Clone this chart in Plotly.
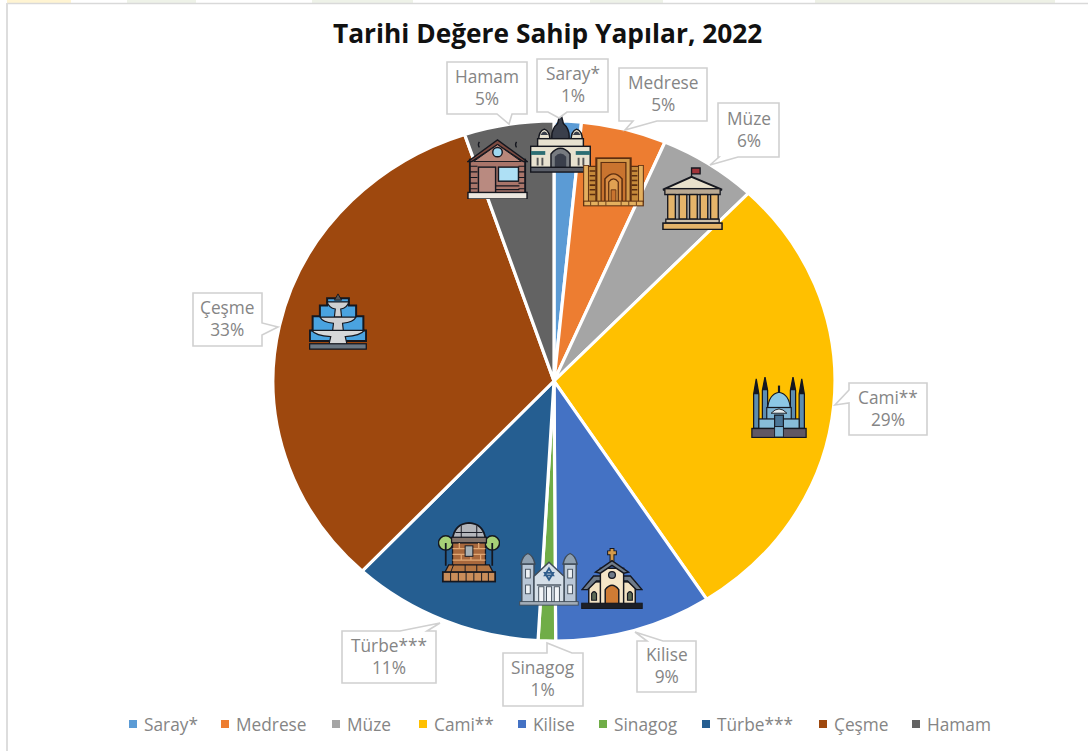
import base64
import plotly.graph_objects as go

W, H = 1088, 751

# ---- data ----
categories = ["Saray*", "Medrese", "Müze", "Cami**", "Kilise", "Sinagog", "Türbe***", "Çeşme", "Hamam"]
shares = [1.56, 4.9, 5.7, 28.7, 9.05, 1.0, 11.05, 32.9, 5.15]
share_labels = ["1%", "5%", "6%", "29%", "9%", "1%", "11%", "33%", "5%"]
colors = ["#5B9BD5", "#ED7D31", "#A5A5A5", "#FFC000", "#4472C4", "#70AD47", "#255E91", "#9E480E", "#636363"]
title_text = "Tarihi Değere Sahip Yapılar, 2022"

# ---- layout constants (pixels in the 1088x751 page) ----
CX, CY, RX, RY = 554, 381, 281, 260
TEXT_GREY = "#858585"
BOX_GREY = "#D0D0D0"
TITLE_FONT = "'Open Sans', Lato, sans-serif"
FONT = "'Open Sans', Lato, sans-serif"
LABEL_SIZE = 17.3

# box x0, y0, x1, y1 and tail polygon (base a, tip, base b) for each callout
callouts = {
    "Saray*":   ((537, 59, 608, 112), ((548, 112), (559, 118), (567, 112))),
    "Medrese":  ((619, 68, 707, 121), ((633, 121), (625, 130), (657, 121))),
    "Müze":     ((718, 103, 779, 157), ((719, 157), (710, 165), (738, 157))),
    "Cami**":   ((849, 383, 927, 435), ((849, 390), (835, 405), (849, 403))),
    "Kilise":   ((637, 641, 696, 692), ((647, 641), (635, 632), (663, 641))),
    "Sinagog":  ((503, 653, 583, 706), ((547, 653), (547, 643), (572, 653))),
    "Türbe***": ((342, 631, 436, 683), ((400, 631), (440, 623), (427, 631))),
    "Çeşme":    ((193, 293, 262, 346), ((262, 323), (278, 327), (262, 335))),
    "Hamam":    ((447, 62, 527, 114), ((497, 114), (509, 124), (512, 114))),
}
legend_marker_x = [133, 225, 336, 423, 522, 603, 706, 823, 916]
top_strips = [(7, 71, "#FFF4D2"), (127, 196, "#EEF2E8"), (312, 413, "#EEF2E8"), (590, 663, "#EEF2E8"), (815, 1055, "#EEF1E6")]

# icon boxes x0, y0, x1, y1
icon_boxes = {
    "Saray*": (530, 112, 591, 173),
    "Medrese": (583, 157, 644, 207),
    "Müze": (662, 167, 723, 230),
    "Cami**": (751, 377, 807, 438),
    "Kilise": (581, 547, 643, 609),
    "Sinagog": (519, 550, 579, 606),
    "Türbe***": (438, 522, 500, 583),
    "Çeşme": (309, 293, 367, 350),
    "Hamam": (467, 139, 528, 199),
}

K = "#15171f"
icons = {
"Hamam": f'''<path d="M13 9 q-2 -3 0 -6 M52 9 q-2 -3 0 -6" stroke="{K}" stroke-width="1.5" fill="none"/>
<rect x="3" y="22" width="58" height="36" fill="#a9756a" stroke="{K}" stroke-width="2"/>
<path d="M1 24 L32 1 L63 24 L59 24 L32 6 L5 24Z" fill="#7c4b41" stroke="{K}" stroke-width="1.5"/>
<path d="M7 24 L32 6 L57 24Z" fill="#b9877a" stroke="{K}" stroke-width="1"/>
<circle cx="32" cy="14" r="5" fill="#9fd8f0" stroke="{K}" stroke-width="1.5"/>
<rect x="12" y="30" width="18" height="28" fill="#b98a80" stroke="{K}" stroke-width="1.5"/>
<rect x="33" y="30" width="21" height="15" fill="#aee0f5" stroke="{K}" stroke-width="1.5"/>
<path d="M30 50H55M30 54H55M3 29H11M3 35H11M3 41H11M3 47H11M3 53H11M54 29H61M54 35H61M54 41H61M54 47H61M54 53H61" stroke="{K}" stroke-width="1.2"/>
<rect x="1" y="57" width="62" height="7" fill="#ece7df" stroke="{K}" stroke-width="1.5"/>''',
"Saray": f'''<path d="M32 0 L35 12 Q42 18 41 28 H23 Q22 18 29 12 Z" fill="#3a3f4b" stroke="{K}" stroke-width="1.5"/>
<path d="M9 30 Q9 20 15 18 Q21 20 21 30Z M43 30 Q43 20 49 18 Q55 20 55 30Z" fill="#e8e2d0" stroke="{K}" stroke-width="1.5"/>
<path d="M11 24 Q15 17 19 24Z M45 24 Q49 17 53 24Z" fill="#3a3f4b"/>
<rect x="8" y="28" width="48" height="32" fill="#e8e2d0" stroke="{K}" stroke-width="1.5"/>
<rect x="0.7" y="36" width="62.5" height="24" fill="#e8e2d0" stroke="{K}" stroke-width="1.5"/>
<rect x="1" y="41" width="15" height="4" fill="#2c6e73"/><rect x="48" y="41" width="15" height="4" fill="#2c6e73"/>
<path d="M8 48 V56 M13 48 V56 M51 48 V56 M56 48 V56" stroke="#555" stroke-width="2"/>
<path d="M22 60 V44 Q32 32 42 44 V60Z" fill="#777b80" stroke="{K}" stroke-width="1.5"/>
<path d="M26 60 V47 Q32 40 38 47 V60Z" fill="#3a3f4b"/>
<rect x="0.7" y="58" width="62.5" height="5" fill="#5a5e68" stroke="{K}" stroke-width="1.5"/>''',
"Medrese": f'''<rect x="2" y="12" width="60" height="46" fill="#c5893a" stroke="#5c2e10" stroke-width="1.6"/>
<path d="M7 18H13M7 24H13M7 30H13M7 36H13M7 42H13M7 48H13M51 18H57M51 24H57M51 30H57M51 36H57M51 42H57M51 48H57" stroke="#5c2e10" stroke-width="2"/>
<rect x="14" y="1.5" width="36" height="56" fill="#d49a4a" stroke="#5c2e10" stroke-width="2.2"/>
<rect x="19" y="7" width="26" height="50" fill="#c9742f" stroke="#5c2e10" stroke-width="1.3"/>
<path d="M23 58 V28 Q32 15 41 28 V58Z" fill="#d98e45" stroke="#5c2e10" stroke-width="1.6"/>
<path d="M27 58 V32 Q32 24 37 32 V58Z" fill="#e0a152" stroke="#5c2e10" stroke-width="1.3"/>
<path d="M29.5 58 V42 H34.5 V58Z" fill="#c9742f" stroke="#5c2e10"/>
<rect x="0.7" y="11" width="5" height="47" fill="#e4b05f" stroke="#5c2e10"/><rect x="58.3" y="11" width="5" height="47" fill="#e4b05f" stroke="#5c2e10"/>
<rect x="0.7" y="56.5" width="62.5" height="6" fill="#e4b05f" stroke="#5c2e10" stroke-width="1.3"/>
<path d="M8 57V62M16 57V62M24 57V62M40 57V62M48 57V62M56 57V62" stroke="#5c2e10"/>''',
"Müze": f'''<path d="M31 13 V1 H40 V7 H31" fill="#a2343a" stroke="{K}" stroke-width="1.4"/>
<path d="M1 23 L31 10 L63 23 Z" fill="#e9e1cc" stroke="{K}" stroke-width="2"/>
<rect x="3" y="22" width="58" height="6" fill="#b9a993" stroke="{K}" stroke-width="1.4"/>
<g fill="#e5b46a" stroke="{K}" stroke-width="1.4"><rect x="6" y="28" width="8" height="25"/><rect x="18" y="28" width="8" height="25"/><rect x="29" y="28" width="8" height="25"/><rect x="40" y="28" width="8" height="25"/><rect x="51" y="28" width="8" height="25"/></g>
<rect x="4" y="53" width="56" height="4" fill="#cdbfa9" stroke="{K}" stroke-width="1.3"/>
<rect x="1" y="57" width="62" height="6.5" fill="#e5b46a" stroke="{K}" stroke-width="1.6"/>''',
"Cami": f'''<g fill="#5d8db0" stroke="{K}" stroke-width="1.4"><path d="M6 2 L9 18 V54 H3 V18Z"/><path d="M16 0 L19 14 V54 H13 V14Z"/><path d="M48 0 L51 14 V54 H45 V14Z"/><path d="M58 2 L61 18 V54 H55 V18Z"/></g>
<g fill="{K}"><path d="M6 2 L9 18 H3Z"/><path d="M16 0 L19 14 H13Z"/><path d="M48 0 L51 14 H45Z"/><path d="M58 2 L61 18 H55Z"/></g>
<path d="M19 34 Q20 18 32 16 Q44 18 45 34Z" fill="#8cc7e5" stroke="{K}" stroke-width="1.3"/>
<path d="M32 16 V9" stroke="{K}" stroke-width="2.5"/>
<rect x="18" y="32" width="28" height="20" fill="#7fb4d2" stroke="{K}" stroke-width="1.3"/>
<path d="M23 38 Q32 29 41 38Z" fill="#e5ecef" stroke="{K}"/>
<rect x="9" y="44" width="46" height="10" fill="#87bcd8" stroke="{K}" stroke-width="1.3"/>
<rect x="27" y="40" width="10" height="22" fill="#4a7596" stroke="{K}" stroke-width="1.3"/>
<rect x="1" y="54" width="62" height="9.5" fill="#605864" stroke="{K}" stroke-width="1.4"/>
<rect x="27" y="52" width="10" height="11" fill="#7fb4d2" stroke="{K}"/>''',
"Çeşme": f'''<path d="M20 6 H44 V14 H52 V26 H60 V42 H63 V54 H1 V42 H4 V26 H12 V14 H20Z" fill="#4aa3e0" stroke="{K}" stroke-width="2.2"/>
<path d="M32 1 L36 8 H28Z" fill="#555" stroke="{K}"/>
<path d="M20 10 H44 Q42 17 35 18 L36 27 H28 L29 18 Q22 17 20 10Z" fill="#cfd0d2" stroke="{K}" stroke-width="1.3"/>
<path d="M12 27 H52 Q49 33 37 34 L38 43 H26 L27 34 Q15 33 12 27Z" fill="#cfd0d2" stroke="{K}" stroke-width="1.3"/>
<path d="M3 42 H61 Q57 48 40 49 L42 58 H22 L24 49 Q7 48 3 42Z" fill="#d6d7d9" stroke="{K}" stroke-width="1.3"/>
<rect x="0.7" y="57" width="62.5" height="6" fill="#6b7783" stroke="{K}" stroke-width="1.4"/>''',
"Türbe": f'''<circle cx="8" cy="22" r="7.5" fill="#a7d177" stroke="{K}" stroke-width="1.5"/><circle cx="56" cy="22" r="7.5" fill="#a7d177" stroke="{K}" stroke-width="1.5"/>
<path d="M8 22V46M56 22V46" stroke="{K}" stroke-width="1.8"/>
<path d="M15 18 Q17 2 32 1 Q47 2 49 18Z" fill="#b4b6bb" stroke="{K}" stroke-width="1.8"/>
<path d="M24 4V18M40 4V18M18 11H46" stroke="{K}"/>
<rect x="14" y="16" width="36" height="6" fill="#83736a" stroke="{K}" stroke-width="1.3"/>
<rect x="15" y="22" width="34" height="24" fill="#a8683c" stroke="{K}" stroke-width="1.3"/>
<path d="M15 28H49M15 34H49M15 40H49M22 22V28M42 22V28M24 34V40M34 34V40M44 34V40" stroke="#e2a873" stroke-width="1.3"/>
<rect x="28" y="25" width="8" height="11" fill="#a8b1b5" stroke="{K}"/>
<path d="M11 45 H53 L57 53 H7Z" fill="#b67743" stroke="{K}" stroke-width="1.3"/>
<rect x="5" y="52.5" width="54" height="10" fill="#c98d5a" stroke="{K}" stroke-width="1.8"/>
<path d="M13 53V62M21 53V62M29 53V62M37 53V62M45 53V62M52 53V62M16 45L13 53M28 45V53M40 45V53" stroke="{K}"/>''',
"Sinagog": f'''<g fill="#b9c7d6" stroke="#3f4b58" stroke-width="1.5"><rect x="3" y="16" width="13" height="44"/><rect x="48" y="16" width="13" height="44"/>
<path d="M2 16 Q4 6 9.5 4 Q15 6 17 16Z" fill="#8fa0b0"/><path d="M47 16 Q49 6 54.5 4 Q60 6 62 16Z" fill="#8fa0b0"/>
<path d="M16 30 L32 14 L48 30 V60 H16Z" fill="#d5dfe8"/></g>
<path d="M32 21 L36.5 29 L27.5 29Z M32 34 L36.5 26 L27.5 26Z" fill="none" stroke="#2f5d8c" stroke-width="2"/>
<g fill="#f2f5f8" stroke="#3f4b58"><rect x="21" y="42" width="5.5" height="18"/><rect x="29.3" y="42" width="5.5" height="18"/><rect x="37.6" y="42" width="5.5" height="18"/></g>
<path d="M19 40 H45" stroke="#3f4b58" stroke-width="1.5"/>
<rect x="7" y="22" width="5" height="10" fill="#eef2f5" stroke="#3f4b58"/><rect x="52" y="22" width="5" height="10" fill="#eef2f5" stroke="#3f4b58"/>
<rect x="7" y="40" width="5" height="10" fill="#eef2f5" stroke="#3f4b58"/><rect x="52" y="40" width="5" height="10" fill="#eef2f5" stroke="#3f4b58"/>
<rect x="0.7" y="59" width="62.5" height="4" fill="#a2adb8" stroke="#3f4b58"/>''',
"Kilise": f'''<path d="M32 1 V15 M27 6 H37" stroke="{K}" stroke-width="5"/><path d="M32 2 V15 M28 6 H36" stroke="#d49a4a" stroke-width="3"/>
<rect x="8" y="36" width="48" height="23" fill="#f3e2c2" stroke="{K}" stroke-width="1.5"/>
<path d="M1 44 L13 30 H51 L63 44 L57 44 L48 35 H16 L7 44Z" fill="#6f7b89" stroke="{K}" stroke-width="1.5"/>
<rect x="20" y="22" width="24" height="37" fill="#f6e6c8" stroke="{K}" stroke-width="1.5"/>
<path d="M15 26 L32 14 L49 26 L44 27 L32 19 L20 27Z" fill="#6f7b89" stroke="{K}" stroke-width="1.5"/>
<circle cx="32" cy="29" r="3.5" fill="#6f7b89" stroke="{K}" stroke-width="1.3"/>
<path d="M25 59 V44 Q32 35 39 44 V59Z" fill="#cf7b34" stroke="{K}" stroke-width="1.5"/>
<path d="M11 55 V48 Q13.5 44 16 48 V55Z M48 55 V48 Q50.5 44 53 48 V55Z" fill="#5d6a55" stroke="{K}" stroke-width="1.2"/>
<rect x="0.7" y="58" width="62.5" height="5.5" fill="#1d1f26" stroke="{K}"/>''',
}
icon_keys = {"Saray*": "Saray", "Medrese": "Medrese", "Müze": "Müze", "Cami**": "Cami", "Kilise": "Kilise",
             "Sinagog": "Sinagog", "Türbe***": "Türbe", "Çeşme": "Çeşme", "Hamam": "Hamam"}


def px(x):
    return x / W


def py(y):
    return 1 - y / H


def svg_uri(body):
    svg = f'<svg xmlns="http://www.w3.org/2000/svg" viewBox="0 0 64 64" preserveAspectRatio="none">{body}</svg>'
    return "data:image/svg+xml;base64," + base64.b64encode(svg.encode("utf-8")).decode("ascii")


fig = go.Figure(go.Pie(
    labels=categories,
    values=shares,
    sort=False,
    direction="clockwise",
    rotation=0,
    textinfo="none",
    hoverinfo="label+percent",
    marker=dict(colors=colors, line=dict(color="#FFFFFF", width=3.2)),
    domain=dict(x=[px(CX - RX), px(CX + RX)], y=[py(CY + RX), py(CY - RX)]),
    showlegend=False,
))

shapes = [
    dict(type="rect", xref="paper", yref="paper", x0=px(x0), x1=px(x1), y0=py(3), y1=py(0), fillcolor=c, line_width=0, layer="below")
    for x0, x1, c in top_strips
]
shapes += [
    # frame of the pasted picture
    dict(type="line", xref="paper", yref="paper", x0=px(7), x1=px(1088), y0=py(3.5), y1=py(3.5), line=dict(color="#D9D9D9", width=1.5), layer="below"),
    dict(type="line", xref="paper", yref="paper", x0=px(7), x1=px(7), y0=py(3), y1=py(751), line=dict(color="#DDDDDD", width=2), layer="below"),
]

annotations = [dict(
    text=f"<b>{title_text}</b>", x=px(547.5), y=py(33), xref="paper", yref="paper", xanchor="center", yanchor="middle",
    showarrow=False, font=dict(family=TITLE_FONT, size=26.3, color="#111111"),
)]

# callout boxes
for name, label in zip(categories, share_labels):
    (x0, y0, x1, y1), (a, tip, b) = callouts[name]
    corners = [(x0, y0), (x1, y0), (x1, y1), (x0, y1)]
    # find the edge that holds the tail base and insert the tail there
    points = []
    for i, c in enumerate(corners):
        d = corners[(i + 1) % 4]
        points.append(c)
        for first, second in ((a, b), (b, a)):
            on_edge = (c[0] == d[0] == first[0]) or (c[1] == d[1] == first[1])
            forward = (first[0] - c[0]) * (d[0] - c[0]) + (first[1] - c[1]) * (d[1] - c[1])
            backward = (second[0] - c[0]) * (d[0] - c[0]) + (second[1] - c[1]) * (d[1] - c[1])
            if on_edge and forward < backward:
                points += [first, tip, second]
                break
    path = "M " + " L ".join(f"{px(p[0]):.5f},{py(p[1]):.5f}" for p in points) + " Z"
    shapes.append(dict(type="path", xref="paper", yref="paper", path=path, fillcolor="#FFFFFF",
                       line=dict(color=BOX_GREY, width=1.6), layer="above"))
    annotations.append(dict(
        text=f"{name}<br>{label}", x=px((x0 + x1) / 2), y=py((y0 + y1) / 2 - 1), xref="paper", yref="paper",
        xanchor="center", yanchor="middle", showarrow=False, align="center",
        font=dict(family=FONT, size=LABEL_SIZE, color=TEXT_GREY),
    ))

# legend row
for name, color, mx in zip(categories, colors, legend_marker_x):
    shapes.append(dict(type="rect", xref="paper", yref="paper", x0=px(mx - 4), x1=px(mx + 4), y0=py(728), y1=py(720),
                       fillcolor=color, line_width=0))
    annotations.append(dict(
        text=name, x=px(mx + 9), y=py(724), xref="paper", yref="paper", xanchor="left", yanchor="middle",
        showarrow=False, font=dict(family=FONT, size=LABEL_SIZE, color=TEXT_GREY),
    ))

images = []
for name, (x0, y0, x1, y1) in icon_boxes.items():
    images.append(dict(source=svg_uri(icons[icon_keys[name]]), xref="paper", yref="paper", x=px(x0), y=py(y0),
                       sizex=px(x1 - x0), sizey=(y1 - y0) / H, sizing="stretch", xanchor="left", yanchor="top", layer="above"))

fig.update_layout(
    width=W, height=H, autosize=False,
    margin=dict(l=0, r=0, t=0, b=0),
    paper_bgcolor="#FFFFFF",
    shapes=shapes, annotations=annotations, images=images,
)

# The source picture squeezes the pie vertically; reproduce that on the pie layer only.
post = f"""
document.body.style.margin='0';
var gd=document.getElementById('{{plot_id}}');
var s={RY / RX};
var layer=gd.querySelector('.pielayer');
if(layer){{layer.setAttribute('transform','translate(0,{CY}) scale(1,'+s+') translate(0,{-CY})');}}
"""
fig.write_html("out.html", post_script=post, config={"displayModeBar": False})
